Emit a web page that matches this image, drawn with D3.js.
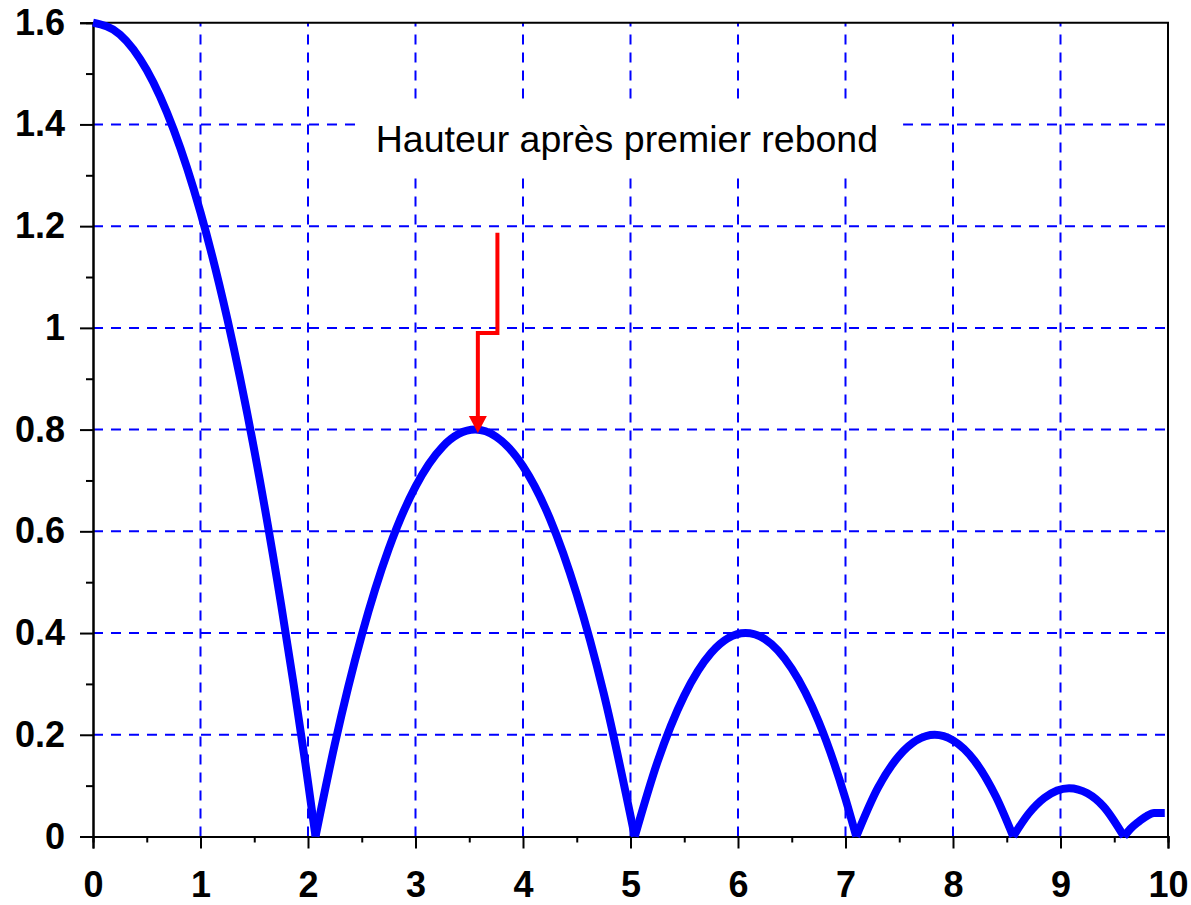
<!DOCTYPE html>
<html>
<head>
<meta charset="utf-8">
<script src="https://cdn.jsdelivr.net/npm/d3@7/dist/d3.min.js"></script>
<style>
  html, body { margin: 0; padding: 0; background: #fff; }
  svg { display: block; }
</style>
</head>
<body>
<svg id="chart"></svg>
<script>
// ticks
const xTicks = [0, 1, 2, 3, 4, 5, 6, 7, 8, 9, 10];
const yTicks = [0, 0.2, 0.4, 0.6, 0.8, 1, 1.2, 1.4, 1.6];
const yTickLabels = ["0", "0.2", "0.4", "0.6", "0.8", "1", "1.2", "1.4", "1.6"];

// hauteur de la balle, un arc par rebond
const arc1 = [[0, 1.6], [0.25, 1.577], [0.5, 1.507], [0.75, 1.39], [1.0, 1.227], [1.25, 1.017], [1.5, 0.76], [1.75, 0.456], [2.0, 0.107], [2.07, 0]];
const arc2 = [[2.07, 0], [2.25, 0.182], [2.5, 0.396], [2.75, 0.565], [3.0, 0.688], [3.25, 0.766], [3.555, 0.8], [3.75, 0.786], [4.0, 0.728], [4.25, 0.625], [4.5, 0.476], [4.75, 0.282], [5.04, 0]];
const arc3 = [[5.04, 0], [5.25, 0.146], [5.5, 0.277], [5.75, 0.361], [6.07, 0.4], [6.25, 0.388], [6.5, 0.33], [6.75, 0.226], [7.0, 0.074], [7.1, 0]];
const arc4 = [[7.1, 0], [7.3, 0.095], [7.5, 0.159], [7.83, 0.2], [8.0, 0.189], [8.2, 0.149], [8.4, 0.078], [8.56, 0]];
const arc5 = [[8.56, 0], [8.7, 0.044], [8.85, 0.076], [9.08, 0.095], [9.25, 0.085], [9.4, 0.059], [9.59, 0]];
const arc6 = [[9.59, 0], [9.65, 0.015], [9.72, 0.028], [9.8, 0.04], [9.87, 0.046], [9.97, 0.046]];
const arcs = [arc1, arc2, arc3, arc4, arc5, arc6];

// annotation
const annotationText = "Hauteur après premier rebond";
const annotationPos = [2.63, 1.346];
const arrowPoints = [[3.762, 1.187], [3.762, 0.99], [3.58, 0.99], [3.58, 0.826]];
const arrowTip = [3.58, 0.7935];

const width = 1191, height = 905;
const margin = { top: 22.7, right: 23, bottom: 68.5, left: 93 };

const svg = d3.select("#chart").attr("width", width).attr("height", height);

const x = d3.scaleLinear().domain([0, 10]).range([margin.left, width - margin.right]);
const y = d3.scaleLinear().domain([0, 1.6]).range([height - margin.bottom, margin.top]);

// grille
const grid = svg.append("g").attr("stroke", "#0000ff").attr("stroke-width", 2).attr("stroke-dasharray", "10,8");
grid.selectAll("line.v").data(xTicks.slice(1, -1)).enter().append("line")
  .attr("x1", d => x(d)).attr("x2", d => x(d))
  .attr("y1", y(0)).attr("y2", y(1.6));
grid.selectAll("line.h").data(yTicks.slice(1, -1)).enter().append("line")
  .attr("x1", x(0)).attr("x2", x(10))
  .attr("y1", d => y(d)).attr("y2", d => y(d));

// cadre haut / droite
svg.append("path")
  .attr("d", `M${x(0)},${y(1.6)}H${x(10)}V${y(0)}`)
  .attr("fill", "none").attr("stroke", "#000").attr("stroke-width", 2);

// axes
const minorX = d3.range(0.5, 10, 1);
const minorY = d3.range(0.1, 1.6, 0.2);

const gx = svg.append("g").attr("transform", `translate(0,${y(0)})`);
gx.append("g").call(d3.axisBottom(x).tickValues(minorX).tickSize(6).tickFormat(""));
gx.append("g").call(d3.axisBottom(x).tickValues(xTicks).tickSize(12).tickPadding(23).tickFormat(d3.format("d")));

const gy = svg.append("g").attr("transform", `translate(${x(0)},0)`);
gy.append("g").call(d3.axisLeft(y).tickValues(minorY).tickSize(7).tickFormat(""));
gy.append("g").call(d3.axisLeft(y).tickValues(yTicks).tickSize(13).tickPadding(15)
  .tickFormat((d, i) => yTickLabels[i]));

svg.selectAll(".domain").attr("stroke", "#000").attr("stroke-width", 2);
svg.selectAll(".tick line").attr("stroke", "#000").attr("stroke-width", 2);
svg.selectAll(".tick text")
  .attr("fill", "#000")
  .style("font-family", "'Liberation Sans', Arial, sans-serif")
  .style("font-size", "36px")
  .style("font-weight", "bold");

// courbe
const line = d3.line().x(d => x(d[0])).y(d => y(d[1])).curve(d3.curveMonotoneX);
svg.append("g").selectAll("path").data(arcs).enter().append("path")
  .attr("d", line)
  .attr("fill", "none")
  .attr("stroke", "#0000ff")
  .attr("stroke-width", 8)
  .attr("stroke-linejoin", "round");

// annotation (fond blanc derrière le texte)
const labelBox = svg.append("rect").attr("fill", "#fff");
const label = svg.append("text")
  .attr("x", x(annotationPos[0])).attr("y", y(annotationPos[1]))
  .attr("fill", "#000")
  .style("font-family", "'Liberation Sans', Arial, sans-serif")
  .style("font-size", "37.5px")
  .text(annotationText);
const bb = label.node().getBBox();
labelBox
  .attr("x", bb.x - 19).attr("y", bb.y - 14)
  .attr("width", bb.width + 44).attr("height", bb.height + 26);

svg.append("path")
  .attr("d", d3.line().x(d => x(d[0])).y(d => y(d[1]))(arrowPoints))
  .attr("fill", "none").attr("stroke", "#ff0000").attr("stroke-width", 4);

const tx = x(arrowTip[0]), ty = y(arrowTip[1]);
svg.append("path")
  .attr("d", `M${tx},${ty}L${tx - 9},${ty - 17}L${tx + 9},${ty - 17}Z`)
  .attr("fill", "#ff0000");
</script>
</body>
</html>
